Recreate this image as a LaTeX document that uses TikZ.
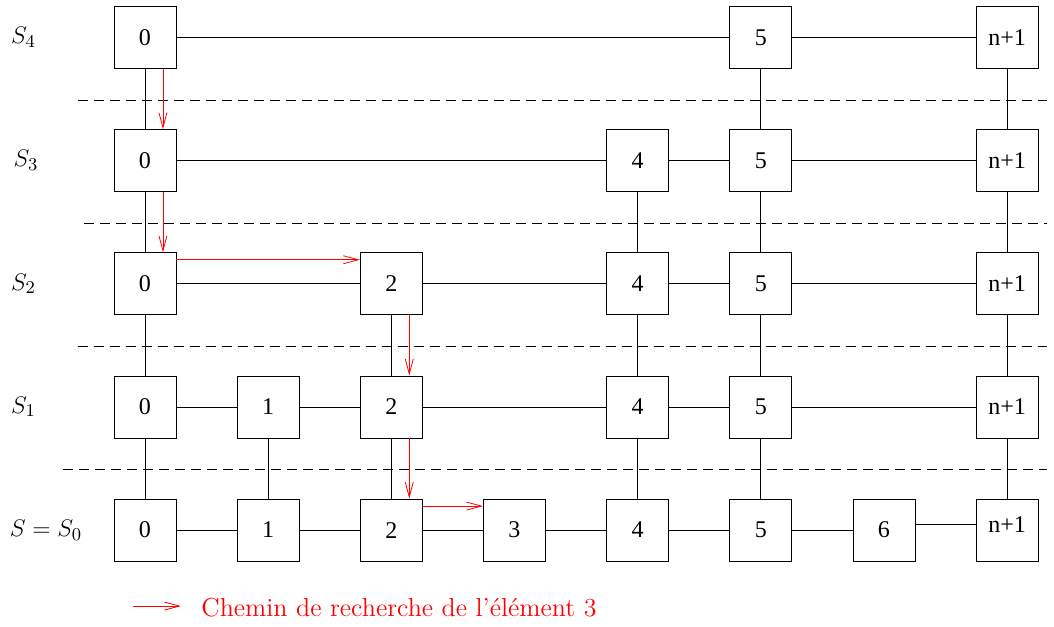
\documentclass[tikz,border=0pt]{standalone}
\usepackage{fontspec}
\newfontfamily\timesfont{Liberation Serif}
\usetikzlibrary{arrows.meta}

\begin{document}
\begin{tikzpicture}[x=61.6pt,y=61.6pt,
	elem/.style={draw,minimum size=31pt,inner sep=0pt,font=\timesfont\fontsize{12}{14}\selectfont},
	level/.style={anchor=west,inner sep=0pt,font=\fontsize{12.5}{15}\selectfont},
	sep/.style={dash pattern=on 5pt off 3pt},
	searchpath/.style={red,-{Straight Barb[length=7.5pt,width=4pt]}}]
					\useasboundingbox (-1.177,-0.780) rectangle (7.381,4.304);

					\node[level] (s4) at (-1.09,4) {$S_4$};
					\node[level] (s3) at (-1.07,3) {$S_3$};
					\node[level] (s2) at (-1.09,2) {$S_2$};
					\node[level] (s1) at (-1.09,1) {$S_1$};
					\node[level] (s0) at (-1.10,0) {$S = S_0$};

					\node[elem] (e40) at (0,4) {0};
					\node[elem] (e45) at (5,4) {5};
					\node[elem] (e47) at (7,4) {n+1};

					\node[elem] (e30) at (0,3) {0};
					\node[elem] (e34) at (4,3) {4};
					\node[elem] (e35) at (5,3) {5};
					\node[elem] (e37) at (7,3) {n+1};

					\node[elem] (e20) at (0,2) {0};
					\node[elem] (e22) at (2,2) {2};
					\node[elem] (e24) at (4,2) {4};
					\node[elem] (e25) at (5,2) {5};
					\node[elem] (e27) at (7,2) {n+1};

					\node[elem] (e10) at (0,1) {0};
					\node[elem] (e11) at (1,1) {1};
					\node[elem] (e12) at (2,1) {2};
					\node[elem] (e14) at (4,1) {4};
					\node[elem] (e15) at (5,1) {5};
					\node[elem] (e17) at (7,1) {n+1};

					\node[elem] (e00) at (0,0) {0};
					\node[elem] (e01) at (1,0) {1};
					\node[elem] (e02) at (2,0) {2};
					\node[elem] (e03) at (3,0) {3};
					\node[elem] (e04) at (4,0) {4};
					\node[elem] (e05) at (5,0) {5};
					\node[elem] (e06) at (6,0) {6};
					\node[elem] (e07) at (7,0) {\raisebox{2.5pt}[\height][\depth]{n+1}};

					\draw[sep] (-0.544,3.492) -- (7.324,3.492);
					\draw[sep] (-0.495,2.493) -- (7.324,2.493);
					\draw[sep] (-0.544,1.494) -- (7.324,1.494);
					\draw[sep] (-0.666,0.495) -- (7.324,0.495);

					\draw (e40) -- (e45) -- (e47);
					\draw (e30) -- (e34) -- (e35) -- (e37);
					\draw (e20) -- (e22) -- (e24) -- (e25) -- (e27);
					\draw (e10) -- (e11) -- (e12) -- (e14) -- (e15) -- (e17);
					\draw (e00) -- (e01) -- (e02) -- (e03) -- (e04) -- (e05) -- (e06);
					\draw ([yshift=3pt]e06.east) -- ([yshift=3pt]e07.west);

					\draw (e40) -- (e30) -- (e20) -- (e10) -- (e00);
					\draw (e11) -- (e01);
					\draw (e22) -- (e12) -- (e02);
					\draw (e34) -- (e24) -- (e14) -- (e04);
					\draw (e45) -- (e35) -- (e25) -- (e15) -- (e05);
					\draw (e47) -- (e37) -- (e27) -- (e17) -- (e07);

					\draw[searchpath] ([xshift=9pt]e40.south) -- ([xshift=9pt]e30.north);
					\draw[searchpath] ([xshift=9pt]e30.south) -- ([xshift=9pt]e20.north);
					\draw[searchpath] ([yshift=12pt]e20.east) -- ([yshift=12pt]e22.west);
					\draw[searchpath] ([xshift=9pt]e22.south) -- ([xshift=9pt]e12.north);
					\draw[searchpath] ([xshift=9pt]e12.south) -- ([xshift=9pt]e02.north);
					\draw[searchpath] ([yshift=12pt]e02.east) -- ([yshift=12pt]e03.west);

					\coordinate (lgA) at (-0.097,-0.617);
					\coordinate (lgB) at (0.292,-0.617);
					\draw[searchpath] (lgA) -- (lgB);
					\node[anchor=west,inner sep=0pt,red,font=\fontsize{13}{15}\selectfont] (legend) at (0.455,-0.633) {Chemin de recherche de l'élément 3};
				\end{tikzpicture}
\end{document}
